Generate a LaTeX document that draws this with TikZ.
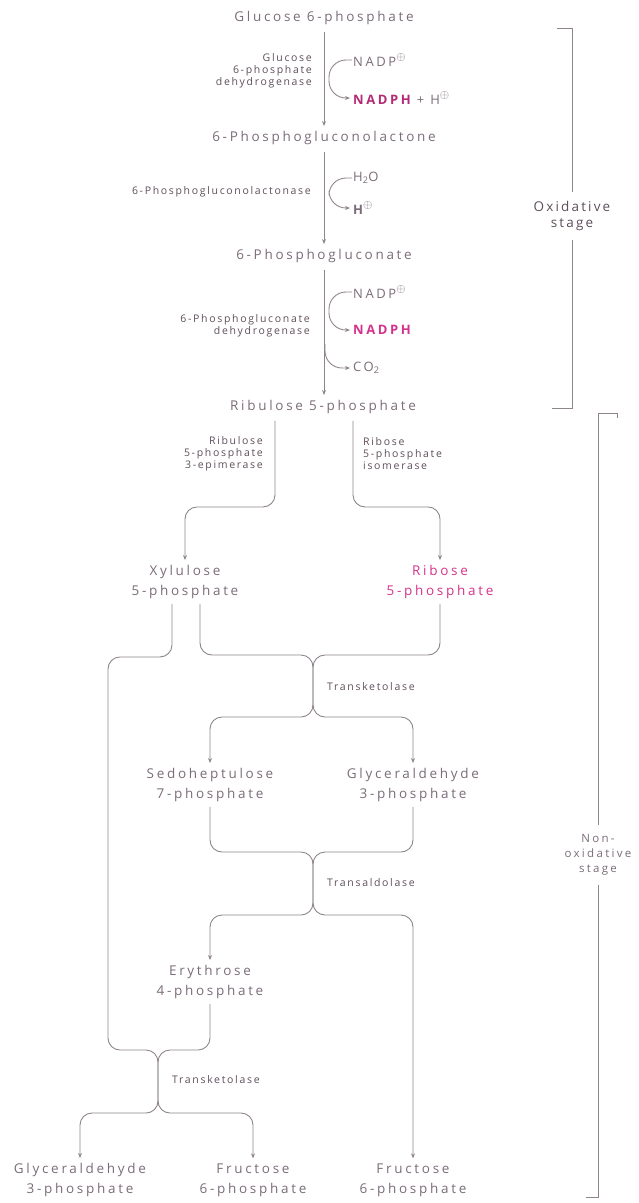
\documentclass[tikz,border=0pt]{standalone}
\usepackage{fontspec}
\setmainfont{Open Sans}
\newfontfamily\metfont{Open Sans}[LetterSpace=20]
\newfontfamily\enzfont{Open Sans}[LetterSpace=16]
\usetikzlibrary{positioning,arrows.meta}

\definecolor{ink}{HTML}{7A6C78}
\definecolor{enzink}{HTML}{5E4E5A}
\definecolor{wire}{HTML}{8E858C}
\definecolor{hot}{HTML}{D3338A}

% circled plus charge, raised
\newcommand{\pluscharge}{\raisebox{0.75ex}{\fontsize{12.5}{12}\selectfont$\oplus$}}

\begin{document}
\begin{tikzpicture}[x=1pt,y=-1pt,
        met/.style={text=ink, font=\metfont\fontsize{13.5}{20}\selectfont, align=center, inner sep=1pt},
        cof/.style={text=ink, font=\metfont\fontsize{13}{15}\selectfont, anchor=west, inner sep=1pt},
        enz/.style={text=enzink, font=\enzfont\fontsize{10.5}{12}\selectfont, align=right, anchor=east, inner sep=1pt},
        stage/.style={text=enzink, font=\enzfont\fontsize{13.5}{16}\selectfont, align=center, inner sep=9pt},
        conn/.style={draw=wire, line width=0.9pt, rounded corners=12pt},
        arrow/.style={conn, -{Stealth[length=5pt,width=4pt]}, shorten >=4pt},
        side/.style={arrow, rounded corners=17pt, shorten >=2pt},
        brk/.style={draw=wire, line width=0.9pt}
    ]
    \useasboundingbox (0,0) rectangle (639,1203);

    % Oxidative stage
    \node[met] (g6p) at (324,18) {Glucose 6-phosphate};
    \node[met] (pgl) at (324,138) {6-Phosphogluconolactone};
    \node[met] (pgn) at (324,256) {6-Phosphogluconate};
    \node[met] (ru5p) at (323,407) {Ribulose 5-phosphate};

    \draw[arrow, shorten <=6pt] (g6p) -- (pgl);
    \draw[arrow, shorten <=6pt] (pgl) -- (pgn);
    \draw[arrow, shorten <=6pt] (pgn.south) -- (pgn.south |- ru5p.north);

    \node[enz] (g6pd) at (313,71) {Glucose\\6-phosphate\\dehydrogenase};
    \node[enz] (pgls) at (312,192) {6-Phosphogluconolactonase};
    \node[enz] (pgd) at (311,326) {6-Phosphogluconate\\dehydrogenase};

    \node[cof] (nadpA) at (352,60) {NADP\pluscharge};
    \node[cof] (nadphA) at (352,98) {\textcolor{hot!85!black}{\bfseries NADPH} + H\pluscharge};
    \node[cof] (water) at (352,178) {H\textsubscript{2}O};
    \node[cof] (proton) at (352,208) {\bfseries H\pluscharge};
    \node[cof] (nadpB) at (352,292) {NADP\pluscharge};
    \node[cof] (nadphB) at (352,330) {\textcolor{hot}{\bfseries NADPH}};
    \node[cof] (co2) at (352,368) {CO\textsubscript{2}};

    \draw[side] (nadpA.west) -- ++(-23,0) |- (nadphA.west);
    \draw[side] (water.west) -- ++(-23,0) |- (proton.west);
    \draw[side] (nadpB.west) -- ++(-23,0) |- (nadphB.west);
    \coordinate (co2fork) at (325,344);
    \draw[side] (co2fork) |- (co2.west);

    % Non-oxidative stage
    \node[met] (xu5p) at (185,582) {Xylulose\\5-phosphate};
    \node[met, text=hot] (r5p) at (440,582) {Ribose\\5-phosphate};
    \node[met] (s7p) at (210,785) {Sedoheptulose\\7-phosphate};
    \node[met] (gapA) at (413,785) {Glyceraldehyde\\3-phosphate};
    \node[met] (e4p) at (210,982) {Erythrose\\4-phosphate};
    \node[met] (gapB) at (80,1180) {Glyceraldehyde\\3-phosphate};
    \node[met] (f6pA) at (253,1180) {Fructose\\6-phosphate};
    \node[met] (f6pB) at (413,1180) {Fructose\\6-phosphate};

    \node[enz] (rpe) at (264,454) {Ribulose\\5-phosphate\\3-epimerase};
    \node[enz, align=left, anchor=west] (rpi) at (362,454) {Ribose\\5-phosphate\\isomerase};
    \node[enz, anchor=west] (tklA) at (326,687) {Transketolase};
    \node[enz, anchor=west] (tal) at (326,883) {Transaldolase};
    \node[enz, anchor=west] (tklB) at (171,1080) {Transketolase};

    \draw[arrow, shorten <=6pt] ([xshift=-48pt]ru5p.south) -- ++(0,92) -| (xu5p.north);
    \draw[arrow, shorten <=6pt] ([xshift=30pt]ru5p.south) -- ++(0,92) -| (r5p.north);

    % junctions
    \coordinate (tkAtop) at (313,655);
    \coordinate (tkAin) at (313,685);
    \coordinate (tkAsplit) at (313,717);
    \coordinate (talTop) at (313,852);
    \coordinate (talIn) at (313,882);
    \coordinate (talSplit) at (313,915);
    \coordinate (xuTurn) at (108,1050);
    \coordinate (tkBtop) at (158,1050);
    \coordinate (tkBin) at (158,1080);
    \coordinate (tkBsplit) at (158,1113);

    % transketolase
    \draw[conn, shorten <=4pt] ([xshift=15pt]xu5p.south) |- (tkAtop) -- (tkAin);
    \draw[conn, shorten <=4pt] (r5p.south) |- (tkAtop) -- (tkAin);
    \draw[arrow] (tkAin) -- (tkAsplit) -| (s7p.north);
    \draw[arrow] (tkAin) -- (tkAsplit) -| (gapA.north);

    % transaldolase
    \draw[conn, shorten <=4pt] (s7p.south) |- (talTop) -- (talIn);
    \draw[conn, shorten <=4pt] (gapA.south) |- (talTop) -- (talIn);
    \draw[arrow] (talIn) -- (talSplit) -| (e4p.north);
    \draw[arrow] (talIn) -- (talSplit) -| (f6pB.north);

    % transketolase again
    \draw[conn, shorten <=4pt] ([xshift=-13pt]xu5p.south) -- ++(0,57) -| (xuTurn) -- (tkBtop) -- (tkBin);
    \draw[conn, shorten <=4pt] (e4p.south) |- (tkBtop) -- (tkBin);
    \draw[arrow] (tkBin) -- (tkBsplit) -| (gapB.north);
    \draw[arrow] (tkBin) -- (tkBsplit) -| (f6pA.north);

    % stage brackets
    \node[stage] (oxi) at (572,216) {Oxidative\\stage};
    \coordinate (oxTop) at (557,28);
    \coordinate (oxBot) at (552,408);
    \draw[brk] (oxi.north) |- (oxTop);
    \draw[brk] (oxi.south) |- (oxBot);

    \node[stage, font=\metfont\fontsize{11.5}{15}\selectfont, text=ink] (nonox) at (598,855) {Non-\\oxidative\\stage};
    \coordinate (nxTop) at (617,413);
    \coordinate (nxBot) at (586,1197);
    \draw[brk] (nonox.north) |- (nxTop) -- ++(0,5);
    \draw[brk] (nonox.south) |- (nxBot);
\end{tikzpicture}
\end{document}
